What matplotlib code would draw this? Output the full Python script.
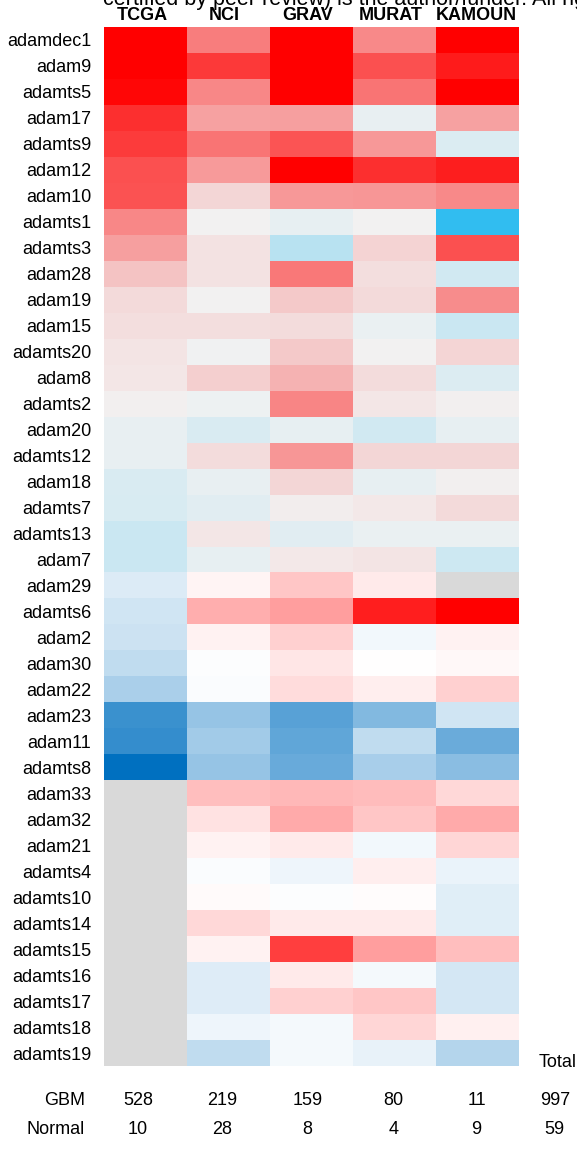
import matplotlib
matplotlib.use("Agg")
import matplotlib.pyplot as plt
from matplotlib.colors import LinearSegmentedColormap
import numpy as np

plt.rcParams['font.family'] = ['Liberation Sans', 'DejaVu Sans']

datasets = ["TCGA", "NCI", "GRAV", "MURAT", "KAMOUN"]

# genes measured in every dataset (grey-centred colour scale)
genes_top = ["adamdec1", "adam9", "adamts5", "adam17", "adamts9", "adam12", "adam10",
             "adamts1", "adamts3", "adam28", "adam19", "adam15", "adamts20", "adam8",
             "adamts2", "adam20", "adamts12", "adam18", "adamts7", "adamts13", "adam7"]
vals_top = [
    [1.00, 0.48, 1.00, 0.43, 1.00],
    [1.00, 0.76, 1.00, 0.67, 0.89],
    [0.97, 0.44, 1.00, 0.52, 1.00],
    [0.80, 0.33, 0.34, -0.05, 0.33],
    [0.75, 0.52, 0.65, 0.37, -0.12],
    [0.67, 0.36, 1.00, 0.80, 0.87],
    [0.66, 0.11, 0.37, 0.38, 0.43],
    [0.44, 0.00, -0.06, 0.00, -1.00],
    [0.34, 0.07, -0.30, 0.13, 0.67],
    [0.19, 0.07, 0.50, 0.08, -0.17],
    [0.10, 0.00, 0.17, 0.10, 0.42],
    [0.08, 0.08, 0.09, -0.04, -0.21],
    [0.06, -0.01, 0.17, 0.00, 0.12],
    [0.05, 0.145, 0.26, 0.09, -0.11],
    [0.01, -0.03, 0.45, 0.05, 0.01],
    [-0.05, -0.13, -0.06, -0.17, -0.06],
    [-0.05, 0.09, 0.38, 0.11, 0.11],
    [-0.13, -0.05, 0.11, -0.06, 0.01],
    [-0.14, -0.09, 0.02, 0.04, 0.10],
    [-0.21, 0.05, -0.09, -0.04, -0.04],
    [-0.21, -0.06, 0.04, 0.06, -0.19],
]

# genes with missing values (white-centred colour scale)
nan = np.nan
genes_bot = ["adam29", "adamts6", "adam2", "adam30", "adam22", "adam23", "adam11",
             "adamts8", "adam33", "adam32", "adam21", "adamts4", "adamts10", "adamts14",
             "adamts15", "adamts16", "adamts17", "adamts18", "adamts19"]
vals_bot = [
    [-0.14, 0.04, 0.22, 0.08, nan],
    [-0.18, 0.32, 0.38, 0.88, 1.00],
    [-0.20, 0.05, 0.18, -0.05, 0.05],
    [-0.25, -0.01, 0.10, 0.00, 0.03],
    [-0.33, -0.02, 0.14, 0.07, 0.18],
    [-0.77, -0.41, -0.65, -0.49, -0.18],
    [-0.79, -0.36, -0.62, -0.25, -0.58],
    [-1.00, -0.41, -0.59, -0.34, -0.46],
    [nan, 0.25, 0.28, 0.26, 0.15],
    [nan, 0.11, 0.33, 0.22, 0.33],
    [nan, 0.05, 0.08, -0.05, 0.16],
    [nan, -0.02, -0.07, 0.07, -0.08],
    [nan, 0.02, -0.01, 0.01, -0.12],
    [nan, 0.15, 0.08, 0.08, -0.12],
    [nan, 0.05, 0.75, 0.38, 0.25],
    [nan, -0.13, 0.08, -0.04, -0.17],
    [nan, -0.13, 0.18, 0.22, -0.17],
    [nan, -0.07, -0.04, 0.16, 0.06],
    [nan, -0.25, -0.04, -0.09, -0.29],
]

gbm = [528, 219, 159, 80, 11, 997]
normal = [10, 28, 8, 4, 9, 59]

cmap_top = LinearSegmentedColormap.from_list("top", ["#31bdf0", "#f2f2f2", "#ff0000"])
cmap_bot = LinearSegmentedColormap.from_list("bot", ["#0070c0", "#ffffff", "#ff0000"])
cmap_top.set_bad("#d9d9d9")
cmap_bot.set_bad("#d9d9d9")

fig = plt.figure(figsize=(5.77, 11.49), dpi=100)
ax = fig.add_axes([104/577, 1-1066/1149, 415/577, 1039/1149])

n_top = len(genes_top)
n_all = n_top + len(genes_bot)
xs = np.arange(len(datasets) + 1)
ax.pcolormesh(xs, np.arange(0, n_top + 1), np.ma.masked_invalid(np.array(vals_top)),
              cmap=cmap_top, vmin=-1, vmax=1)
ax.pcolormesh(xs, np.arange(n_top, n_all + 1), np.ma.masked_invalid(np.array(vals_bot)),
              cmap=cmap_bot, vmin=-1, vmax=1)
ax.set_xlim(0, len(datasets))
ax.set_ylim(n_all, 0)

ax.set_yticks(np.arange(n_all) + 0.5)
ax.set_yticklabels(genes_top + genes_bot, fontsize=13)
ax.tick_params(axis='y', length=0, pad=9)
ax.set_xticks([])
for s in ax.spines.values():
    s.set_visible(False)

# column headers
head_x = [0.46, 1.45, 2.45, 3.45, 4.48]
for x, name in zip(head_x, datasets):
    ax.text(x, -0.27, name, ha='center', va='baseline', fontsize=13, fontweight='bold')

# sample counts
count_x = [0.41, 1.42, 2.45, 3.49, 4.49, 5.43]
ax.text(5.46, n_all - 0.12, "Total", ha='center', va='center', fontsize=13)
ax.text(-0.23, n_all + 1.31, "GBM", ha='right', va='center', fontsize=13)
ax.text(-0.23, n_all + 2.44, "Normal", ha='right', va='center', fontsize=13)
for x, g, nm in zip(count_x, gbm, normal):
    ax.text(x, n_all + 1.31, str(g), ha='center', va='center', fontsize=13)
    ax.text(x, n_all + 2.44, str(nm), ha='center', va='center', fontsize=13)

fig.text(103/577, 1 - 5/1149,
         "certified by peer review) is the author/funder. All rights reserved. No reuse allowed without permission.",
         ha='left', va='baseline', fontsize=15.5)

fig.savefig("out.png", dpi=100)
